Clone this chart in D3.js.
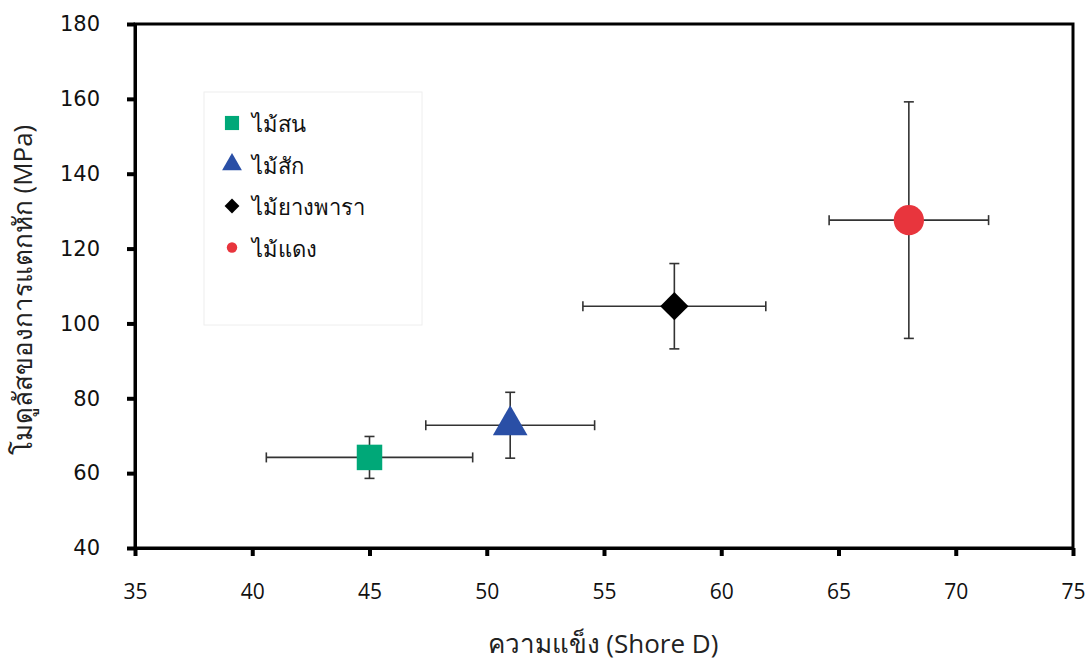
<!DOCTYPE html>
<html>
<head>
<meta charset="utf-8">
<script src="https://cdn.jsdelivr.net/npm/d3@7"></script>
<style>
  body { margin: 0; background: #fff; }
  svg text { font-family: "Open Sans", "Noto Sans", sans-serif; }
</style>
</head>
<body>
<svg id="chart"></svg>
<script>
// wood types
var woods = ["ไม้สน", "ไม้สัก", "ไม้ยางพารา", "ไม้แดง"];
// hardness (Shore D) and its error
var hardness = [45, 51, 58, 68];
var hardnessErr = [4.4, 3.6, 3.9, 3.4];
// modulus of rupture (MPa) and its error
var modulus = [64.2, 72.8, 104.6, 127.6];
var modulusErr = [5.6, 8.8, 11.4, 31.6];
var markerShapes = ["square", "triangle", "diamond", "circle"];
var markerColors = ["#00A878", "#2A4FA6", "#000000", "#E8353D"];

var xTicks = [35, 40, 45, 50, 55, 60, 65, 70, 75];
var yTicks = [40, 60, 80, 100, 120, 140, 160, 180];

var svgWidth = 1091, svgHeight = 661;
var margin = { top: 24, right: 18, bottom: 113, left: 135 };
var chartWidth = svgWidth - margin.left - margin.right;
var chartHeight = svgHeight - margin.top - margin.bottom;

var svg = d3.select("#chart")
  .attr("width", svgWidth)
  .attr("height", svgHeight);

var chart = svg.append("g")
  .attr("transform", "translate(" + margin.left + "," + margin.top + ")");

var xScale = d3.scaleLinear().domain([35, 75]).range([0, chartWidth]);
var yScale = d3.scaleLinear().domain([40, 180]).range([chartHeight, 0]);

// frame
chart.append("rect")
  .attr("width", chartWidth)
  .attr("height", chartHeight)
  .attr("fill", "none")
  .attr("stroke", "#000")
  .attr("stroke-width", 3);

// x axis
var xAxis = chart.append("g")
  .attr("transform", "translate(0," + chartHeight + ")")
  .call(d3.axisBottom(xScale).tickValues(xTicks).tickSize(8).tickSizeOuter(0).tickPadding(28));
xAxis.select(".domain").attr("stroke-width", 3);
xAxis.selectAll(".tick line").attr("stroke-width", 4);
xAxis.selectAll("text")
  .style("font-family", "'Open Sans', sans-serif")
  .style("font-size", "21px")
  .attr("fill", "#111");

// y axis
var yAxis = chart.append("g")
  .call(d3.axisLeft(yScale).tickValues(yTicks).tickSize(8).tickSizeOuter(0).tickPadding(27));
yAxis.select(".domain").attr("stroke-width", 3);
yAxis.selectAll(".tick line").attr("stroke-width", 4);
yAxis.selectAll("text")
  .style("font-family", "'DejaVu Sans', sans-serif")
  .style("font-size", "21px")
  .attr("fill", "#111");

// axis titles
svg.append("text")
  .attr("x", 603)
  .attr("y", 653)
  .attr("text-anchor", "middle")
  .style("font-size", "26px")
  .attr("fill", "#222")
  .text("ความแข็ง (Shore D)");

svg.append("text")
  .attr("transform", "translate(32," + 290 + ") rotate(-90)")
  .attr("text-anchor", "middle")
  .style("font-size", "26px")
  .attr("fill", "#222")
  .text("โมดูลัสของการแตกหัก (MPa)");

// marker helper
function symbolFor(shape, size) {
  var types = {
    square: d3.symbolSquare,
    triangle: d3.symbolTriangle,
    diamond: d3.symbolSquare,
    circle: d3.symbolCircle
  };
  return d3.symbol().type(types[shape]).size(size)();
}

var points = woods.map(function (w, i) {
  return {
    name: w, x: hardness[i], xe: hardnessErr[i],
    y: modulus[i], ye: modulusErr[i],
    shape: markerShapes[i], color: markerColors[i]
  };
});

var cap = 5;
var errG = chart.append("g")
  .attr("stroke", "#333")
  .attr("stroke-width", 1.6);

points.forEach(function (d) {
  var cx = xScale(d.x), cy = yScale(d.y);
  var x0 = xScale(d.x - d.xe), x1 = xScale(d.x + d.xe);
  var y0 = yScale(d.y - d.ye), y1 = yScale(d.y + d.ye);
  errG.append("line").attr("x1", x0).attr("x2", x1).attr("y1", cy).attr("y2", cy);
  errG.append("line").attr("x1", x0).attr("x2", x0).attr("y1", cy - cap).attr("y2", cy + cap);
  errG.append("line").attr("x1", x1).attr("x2", x1).attr("y1", cy - cap).attr("y2", cy + cap);
  errG.append("line").attr("x1", cx).attr("x2", cx).attr("y1", y0).attr("y2", y1);
  errG.append("line").attr("x1", cx - cap).attr("x2", cx + cap).attr("y1", y0).attr("y2", y0);
  errG.append("line").attr("x1", cx - cap).attr("x2", cx + cap).attr("y1", y1).attr("y2", y1);
});

var bigSizes = { square: 650, triangle: 520, diamond: 400, circle: 720 };
chart.selectAll(".marker")
  .data(points)
  .enter()
  .append("path")
  .attr("class", "marker")
  .attr("d", function (d) { return symbolFor(d.shape, bigSizes[d.shape]); })
  .attr("transform", function (d) {
    var t = "translate(" + xScale(d.x) + "," + yScale(d.y) + ")";
    if (d.shape === "diamond") t += " rotate(45)";
    return t;
  })
  .attr("fill", function (d) { return d.color; });

// legend
var legend = svg.append("g").attr("transform", "translate(204,92)");
legend.append("rect")
  .attr("width", 218)
  .attr("height", 233)
  .attr("fill", "#fff")
  .attr("stroke", "#eee")
  .attr("stroke-width", 1);

var smallSizes = { square: 200, triangle: 170, diamond: 110, circle: 85 };
var legendItems = legend.selectAll(".legend-item")
  .data(points)
  .enter()
  .append("g")
  .attr("class", "legend-item")
  .attr("transform", function (d, i) { return "translate(28," + (31 + i * 41.5) + ")"; });

legendItems.append("path")
  .attr("d", function (d) { return symbolFor(d.shape, smallSizes[d.shape]); })
  .attr("transform", function (d) { return d.shape === "diamond" ? "rotate(45)" : null; })
  .attr("fill", function (d) { return d.color; });

legendItems.append("text")
  .attr("x", 20)
  .attr("y", 9)
  .style("font-size", "22px")
  .attr("fill", "#111")
  .text(function (d) { return d.name; });
</script>
</body>
</html>
